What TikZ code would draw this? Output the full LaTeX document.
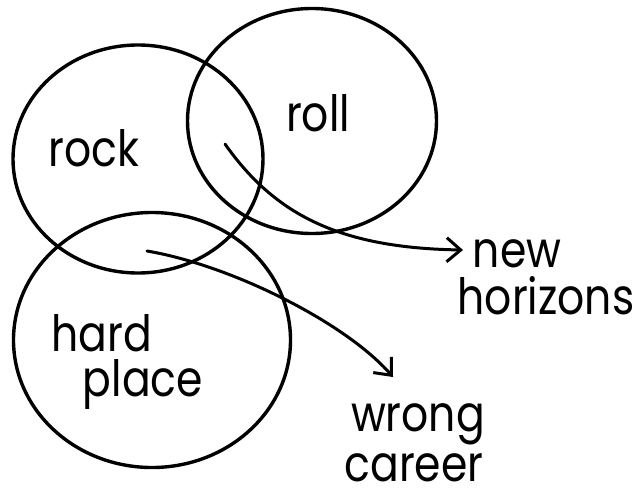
\documentclass[tikz,border=0pt]{standalone}
\usepackage{fontspec}
\setmainfont{Poppins}[FakeStretch=0.85]
\usetikzlibrary{shapes.geometric,arrows.meta}
\begin{document}
\begin{tikzpicture}[x=1pt,y=-1pt,
  ring/.style={draw=black, line width=3.4pt, ellipse, inner sep=0pt},
  word/.style={font=\fontsize{50}{50}\selectfont, inner sep=0pt, anchor=base},
  pointer/.style={line width=3pt, line cap=round,
    -{Straight Barb[length=14pt,width=24pt,line width=3pt]}}]
\useasboundingbox[fill=white] (0,0) rectangle (639,498);
% circles
\node[ring, minimum width=250pt, minimum height=228pt] (rockc) at (138,159) {};
\node[ring, minimum width=249pt, minimum height=225pt] (rollc) at (312,121) {};
\node[ring, minimum width=277pt, minimum height=255pt] (hardc) at (152,340) {};
% labels
\node[word] (rock) at (94,166) {rock};
\node[word] (roll) at (318,131) {roll};
\node[word] (hard) at (102,351) {hard};
\node[word] (place) at (143,396) {place};
\node[word] (new) at (517,267) {new};
\node[word] (horizons) at (546,314) {horizons};
\node[word] (wrong) at (418,431) {wrong};
\node[word] (career) at (414,481) {career};
% arrow ends
\coordinate (s1) at (225,144);
\coordinate (e1) at (463,250);
\coordinate (s2) at (147,251);
\coordinate (e2) at (393,377);
\draw[pointer] (s1) .. controls (275,215) and (340,248) .. (e1);
\draw[pointer] (s2) .. controls (230,265) and (345,322) .. (e2);
\end{tikzpicture}
\end{document}
